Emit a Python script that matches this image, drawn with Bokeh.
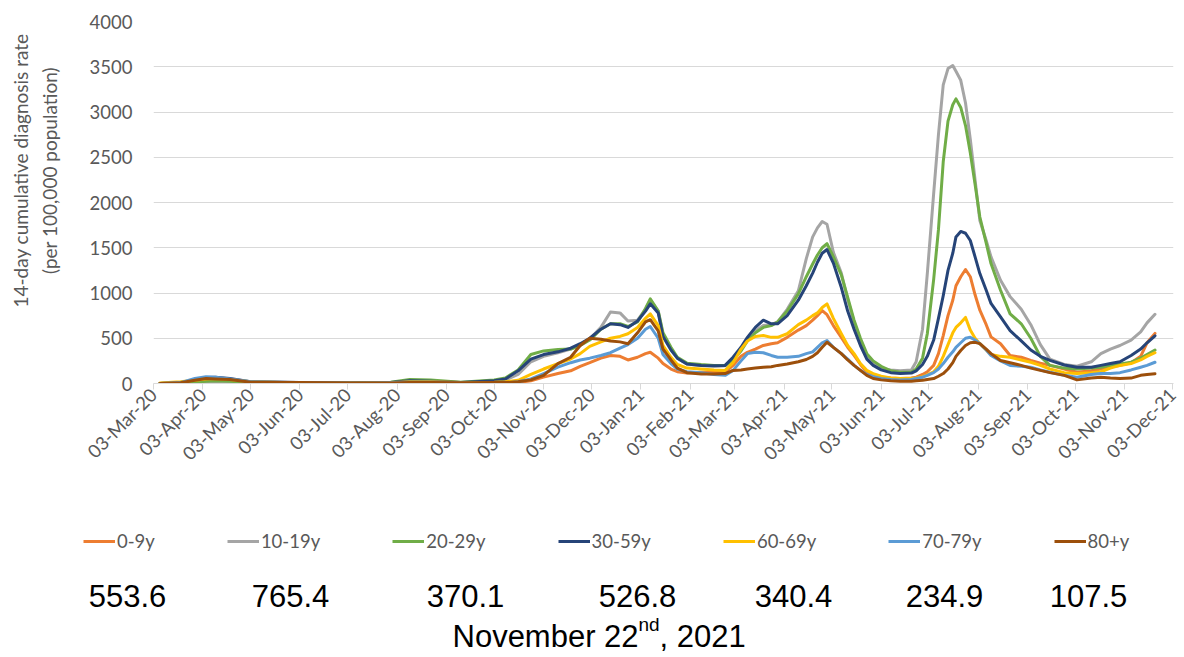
import pandas as pd
from math import pi
from bokeh.plotting import figure
from bokeh.layouts import column, row
from bokeh.models import (ColumnDataSource, Range1d, FixedTicker, DatetimeTickFormatter,
                          Legend, LegendItem)
from bokeh.core.properties import value
from bokeh.embed import file_html
from bokeh.resources import INLINE

# ---------------- data ----------------
dates = [
    "2020-03-07", "2020-03-20", "2020-03-29", "2020-04-05", "2020-04-11", "2020-04-20",
    "2020-05-03", "2020-06-03", "2020-07-05", "2020-07-30", "2020-08-11", "2020-08-24",
    "2020-09-12", "2020-10-03", "2020-10-10", "2020-10-18", "2020-10-26", "2020-11-03",
    "2020-11-12", "2020-11-20", "2020-11-26", "2020-12-02", "2020-12-09", "2020-12-15",
    "2020-12-21", "2020-12-26", "2021-01-01", "2021-01-06", "2021-01-09", "2021-01-14",
    "2021-01-17", "2021-01-22", "2021-01-26", "2021-02-01", "2021-02-10", "2021-02-18",
    "2021-02-25", "2021-03-02", "2021-03-07", "2021-03-11", "2021-03-16", "2021-03-21",
    "2021-03-26", "2021-03-30", "2021-04-05", "2021-04-12", "2021-04-17", "2021-04-21",
    "2021-04-24", "2021-04-27", "2021-04-30", "2021-05-04", "2021-05-09", "2021-05-13",
    "2021-05-17", "2021-05-21", "2021-05-25", "2021-05-29", "2021-06-03", "2021-06-09",
    "2021-06-15", "2021-06-22", "2021-06-25", "2021-06-29", "2021-07-02", "2021-07-06",
    "2021-07-09", "2021-07-12", "2021-07-15", "2021-07-18", "2021-07-20", "2021-07-23",
    "2021-07-26", "2021-07-29", "2021-08-01", "2021-08-04", "2021-08-08", "2021-08-11",
    "2021-08-17", "2021-08-23", "2021-08-30", "2021-09-05", "2021-09-11", "2021-09-17",
    "2021-09-26", "2021-10-04", "2021-10-13", "2021-10-19", "2021-10-25", "2021-10-31",
    "2021-11-07", "2021-11-13", "2021-11-17", "2021-11-22",
]

age_0_9 = [
    0, 2, 5, 8, 10, 8, 3, 1, 1, 2, 5, 5, 3,
    5, 5, 10, 30, 70, 110, 140, 190, 230, 280, 310, 300, 260, 290, 330, 345, 280, 220, 160, 130, 115,
    125, 125, 125, 200, 300, 345, 380, 420, 440, 450, 510, 590, 640, 700, 750, 806, 760, 640, 510,
    400, 310, 210, 125, 95, 70,
    60, 55, 60, 70, 100, 130, 200, 330, 530, 750, 920, 1080, 1180, 1260, 1180, 980, 810, 650, 515,
    440, 310, 290, 255, 225, 200, 160, 125, 140, 160, 185, 200, 230, 300, 450, 553.6,
]
age_10_19 = [
    0, 3, 8, 12, 15, 12, 5, 3, 2, 5, 12, 10, 5,
    25, 40, 100, 240, 300, 340, 380, 430, 490, 620, 790, 780, 690, 700, 820, 920, 800, 540, 380, 280, 215,
    200, 190, 195, 270, 380, 490, 580, 640, 650, 680, 820, 1025, 1380, 1620, 1720, 1790, 1760, 1450, 1220,
    930, 680, 470, 300, 220, 170,
    150, 140, 150, 240, 600, 1215, 2100, 2750, 3300, 3480, 3514, 3450, 3350, 3100, 2700, 2250, 1800, 1580, 1400,
    1140, 960, 820, 650, 430, 270, 210, 190, 240, 330, 380, 420, 480, 570, 670, 765.4,
]
age_20_29 = [
    0, 5, 15, 25, 30, 25, 10, 8, 5, 15, 45, 40, 15,
    40, 60, 150, 320, 360, 375, 380, 420, 480, 600, 660, 660, 630, 680, 830, 935, 800, 560, 400, 290, 225,
    210, 200, 200, 260, 360, 470, 560, 620, 640, 680, 800, 990, 1180, 1320, 1420, 1500, 1545, 1400, 1200,
    950, 700, 500, 330, 250, 190,
    140, 125, 125, 160, 280, 550, 1150, 1700, 2450, 2900, 3080, 3145, 3050, 2850, 2550, 2200, 1840, 1550, 1325,
    1030, 770, 660, 500, 300, 200, 170, 160, 170, 180, 200, 215, 235, 280, 320, 370.1,
]
age_30_59 = [
    0, 10, 40, 65, 70, 55, 20, 10, 5, 12, 30, 25, 12,
    30, 50, 140, 270, 320, 350, 390, 440, 500, 600, 660, 650, 620, 690, 800, 880, 780, 520, 370, 280, 215,
    200, 195, 200, 290, 400, 510, 620, 700, 660, 660, 750, 920, 1080, 1220, 1340, 1440, 1480, 1330, 1060,
    800, 600, 420, 270, 200, 150,
    120, 110, 115, 140, 210, 300, 480, 720, 970, 1250, 1440, 1620, 1680, 1660, 1580, 1400, 1215, 1030, 885,
    735, 585, 470, 370, 300, 255, 205, 180, 180, 200, 220, 240, 310, 380, 450, 526.8,
]
age_60_69 = [
    5, 20, 35, 50, 55, 45, 20, 5, 3, 8, 20, 20, 10,
    15, 20, 35, 100, 160, 220, 270, 330, 410, 460, 500, 520, 550, 620, 720, 770, 640, 420, 290, 210, 170,
    160, 150, 145, 230, 380, 470, 520, 530, 510, 510, 550, 650, 700, 750, 780, 840, 880, 720, 550,
    420, 330, 220, 145, 110, 80,
    60, 55, 55, 60, 75, 95, 130, 190, 300, 430, 560, 620, 670, 730, 590, 500, 440, 370, 320,
    300, 290, 260, 235, 200, 160, 120, 110, 120, 130, 170, 200, 220, 260, 300, 340.4,
]
age_70_79 = [
    0, 10, 55, 75, 70, 50, 20, 8, 3, 8, 15, 15, 8,
    5, 5, 20, 50, 110, 180, 230, 260, 280, 310, 340, 390, 430, 500, 600, 630, 500, 320, 220, 160, 130,
    120, 100, 90, 145, 250, 330, 345, 340, 310, 290, 290, 300, 330, 350, 400, 450, 475, 400, 330,
    270, 200, 145, 100, 75, 55,
    45, 40, 45, 55, 70, 90, 120, 160, 220, 290, 350, 400, 450, 500, 510, 480, 440, 370, 310,
    250, 200, 190, 180, 150, 125, 90, 70, 100, 110, 110, 120, 150, 180, 200, 234.9,
]
age_80_plus = [
    0, 8, 35, 55, 50, 45, 15, 10, 5, 5, 10, 12, 8,
    10, 10, 20, 40, 90, 220, 290, 420, 500, 490, 470, 460, 440, 560, 680, 705, 580, 380, 260, 170, 120,
    105, 105, 110, 145, 150, 160, 170, 180, 185, 200, 215, 240, 265, 300, 340, 400, 456, 400, 330,
    260, 200, 145, 90, 55, 40,
    30, 25, 25, 30, 35, 45, 55, 80, 110, 160, 230, 300, 365, 420, 450, 455, 440, 380, 330,
    255, 230, 200, 170, 145, 120, 90, 40, 60, 70, 60, 55, 60, 90, 100, 107.5,
]

age_groups = ["0-9y", "10-19y", "20-29y", "30-59y", "60-69y", "70-79y", "80+y"]
series = [age_0_9, age_10_19, age_20_29, age_30_59, age_60_69, age_70_79, age_80_plus]
colors = ["#ED7D31", "#A5A5A5", "#70AD47", "#264478", "#FFC000", "#5B9BD5", "#9C4F0B"]
latest_values = ["553.6", "765.4", "370.1", "526.8", "340.4", "234.9", "107.5"]
y_ticks = [0, 500, 1000, 1500, 2000, 2500, 3000, 3500, 4000]
tick_dates = pd.date_range("2020-03-03", "2021-12-03", freq=pd.DateOffset(months=1))
y_title_lines = ["14-day cumulative diagnosis rate", "(per 100,000 population)"]
caption_parts = ["November 22", "nd", ", 2021"]

font = "Lato"
grey = "#595959"
W = 1184
H_TOP = 490
H_BOT = 657 - H_TOP
W_LEFT = 70


def no_frame_align(fig):
    if "frame_align" in fig.properties():
        fig.frame_align = False


# ---------------- y-axis title strip ----------------
t = figure(width=W_LEFT, height=H_TOP, output_backend="svg", toolbar_location=None,
           title=None, x_range=Range1d(0, W_LEFT), y_range=Range1d(0, H_TOP),
           x_axis_location=None, y_axis_location=None, min_border=0)
t.outline_line_color = None
t.grid.visible = False
no_frame_align(t)
t.text(x=[20, 49], y=[H_TOP - 170, H_TOP - 170], text=y_title_lines, angle=pi / 2,
       text_align="center", text_baseline="middle",
       text_font=value(font), text_font_size="19px", text_color=grey)

# ---------------- main chart ----------------
p = figure(width=W - W_LEFT, height=H_TOP, x_axis_type="datetime", output_backend="svg",
           toolbar_location=None, min_border_left=153 - W_LEFT, min_border_right=11,
           min_border_top=21, min_border_bottom=H_TOP - 383)
no_frame_align(p)
p.x_range = Range1d(pd.Timestamp("2020-03-03"), pd.Timestamp("2021-12-03 15:00"))
p.y_range = Range1d(0, 4000)
p.outline_line_color = None

src = ColumnDataSource(dict(date=pd.to_datetime(dates),
                            **{g: s for g, s in zip(age_groups, series)}))
for g, c in zip(age_groups, colors):
    p.line(x="date", y=g, source=src, line_color=c, line_width=3,
           line_join="round", line_cap="round")

p.xaxis.ticker = FixedTicker(ticks=[d.timestamp() * 1000 for d in tick_dates])
fmt = "%d-%b-%y"
p.xaxis.formatter = DatetimeTickFormatter(milliseconds=fmt, seconds=fmt, minsec=fmt, minutes=fmt,
                                          hourmin=fmt, hours=fmt, days=fmt, months=fmt, years=fmt)
p.xaxis.major_label_orientation = pi / 4
p.xaxis.major_label_text_font = font
p.xaxis.major_label_text_font_size = "18.5px"
p.xaxis.major_label_text_color = grey
p.xaxis.major_label_standoff = 2
p.xaxis.axis_line_color = "#D9D9D9"
p.xaxis.major_tick_line_color = "#D9D9D9"
p.xaxis.major_tick_out = 6
p.xaxis.major_tick_in = 0
p.xaxis.minor_tick_line_color = None

p.yaxis.ticker = FixedTicker(ticks=y_ticks)
p.yaxis.major_label_text_font = font
p.yaxis.major_label_text_font_size = "18.5px"
p.yaxis.major_label_text_color = grey
p.yaxis.axis_line_color = None
p.yaxis.major_tick_line_color = None
p.yaxis.major_tick_out = 0
p.yaxis.major_tick_in = 0
p.yaxis.minor_tick_line_color = None
p.yaxis.major_label_standoff = 21

p.xgrid.grid_line_color = None
p.ygrid.grid_line_color = "#D9D9D9"
p.ygrid.grid_line_width = 1

# ---------------- legend / values / caption ----------------
q = figure(width=W, height=H_BOT, output_backend="svg", toolbar_location=None, title=None,
           x_range=Range1d(0, W), y_range=Range1d(0, H_BOT),
           x_axis_location=None, y_axis_location=None, min_border=0)
q.outline_line_color = None
q.grid.visible = False
no_frame_align(q)

items = []
for g, c in zip(age_groups, colors):
    # same series, far outside this strip's ranges: only the legend swatch shows
    r = q.line(x="date", y=g, source=src, line_color=c, line_width=3)
    items.append(LegendItem(label=g, renderers=[r]))
legend = Legend(items=items, orientation="horizontal", location=(83, 657 - 552),
                label_text_font=font, label_text_font_size="18.5px", label_text_color=grey,
                glyph_width=32, glyph_height=20, label_standoff=2, spacing=72,
                padding=0, margin=0, border_line_color=None, background_fill_alpha=0)
q.add_layout(legend, "center")

value_centres = [127, 290, 465, 637, 793, 944, 1088]
q.text(x=value_centres, y=[657 - 595] * len(latest_values), text=latest_values,
       text_align="center", text_baseline="middle",
       text_font=value("Liberation Sans"), text_font_size="31px", text_color="black")

q.text(x=[452, 659], y=[657 - 636, 657 - 636], text=[caption_parts[0], caption_parts[2]],
       text_align="left", text_baseline="middle",
       text_font=value("Liberation Sans"), text_font_size="31px", text_color="black")
q.text(x=[638], y=[657 - 624], text=[caption_parts[1]],
       text_align="left", text_baseline="middle",
       text_font=value("Liberation Sans"), text_font_size="19px", text_color="black")

layout = column(row(t, p, spacing=0), q, spacing=0)
open("out.html", "w").write(file_html(layout, INLINE))
